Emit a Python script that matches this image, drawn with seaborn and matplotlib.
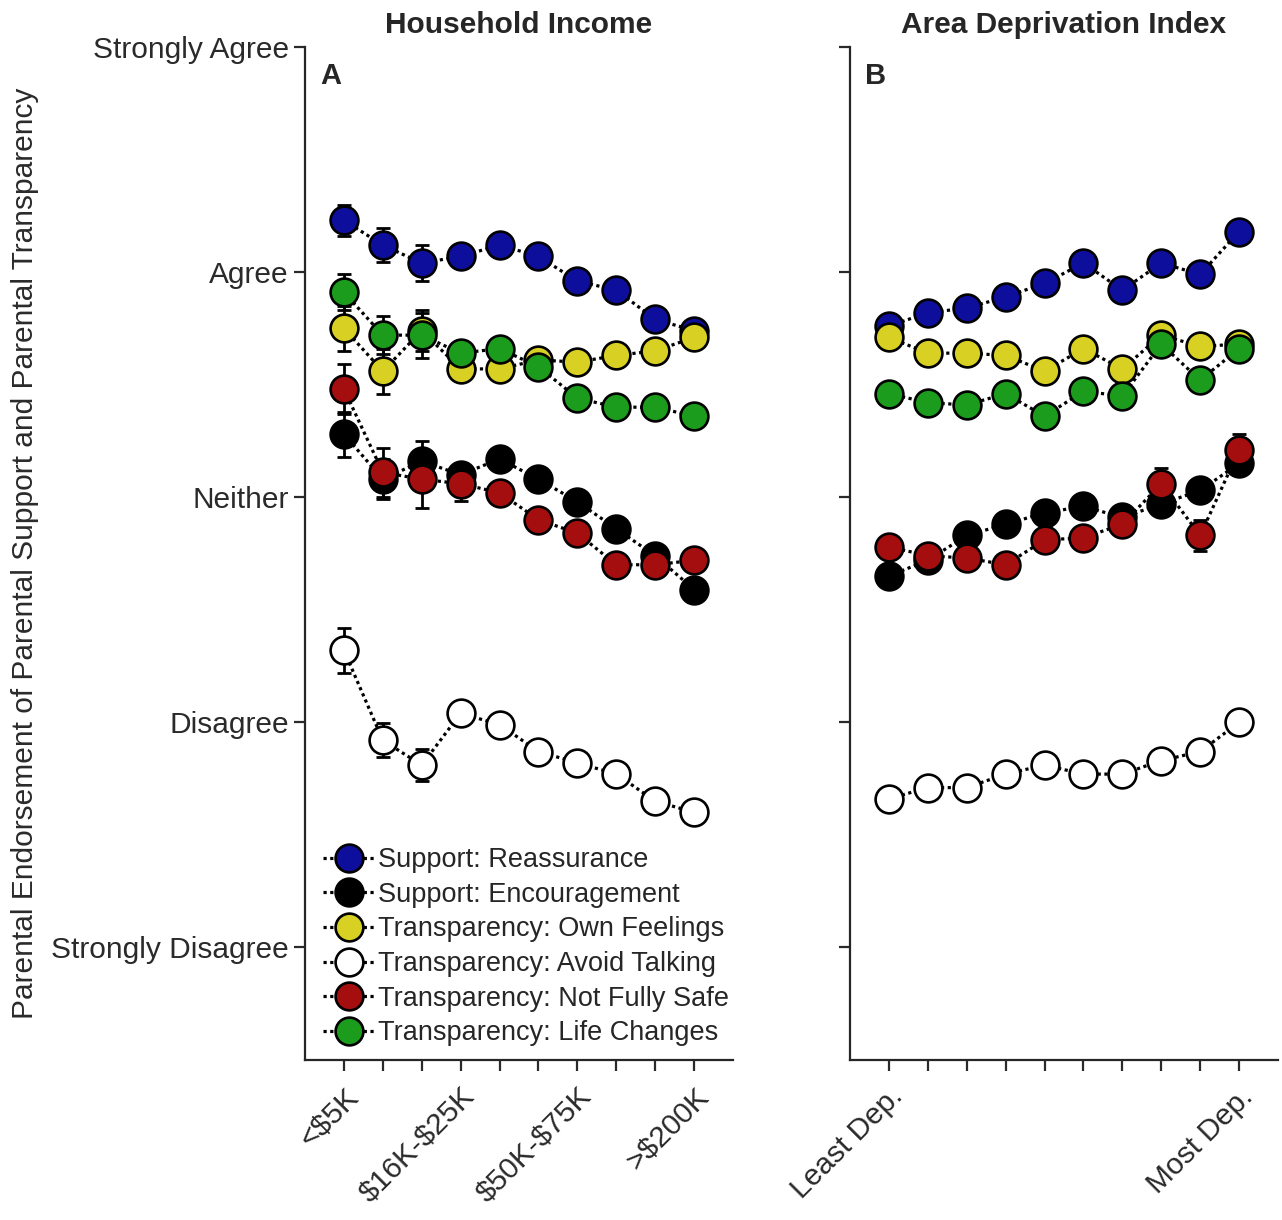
import numpy as np
import pandas as pd
import seaborn as sns
import matplotlib.pyplot as plt

# x positions (ordinal bins) and labels
bins = list(range(1, 11))
income_ticklabels = ["<\\$5K", "", "", "\\$16K-\\$25K", "", "", "\\$50K-\\$75K", "", "", ">\\$200K"]
adi_ticklabels = ["Least Dep.", "", "", "", "", "", "", "", "", "Most Dep."]

likert_ticks = [1, 2, 3, 4, 5]
likert_labels = ["Strongly Disagree", "Disagree", "Neither", "Agree", "Strongly Agree"]

series_names = ["Support: Reassurance", "Support: Encouragement",
                "Transparency: Own Feelings", "Transparency: Avoid Talking",
                "Transparency: Not Fully Safe", "Transparency: Life Changes"]
series_colors = ["#0e0e9c", "#000000", "#d8d022", "#ffffff", "#a50e0e", "#1c9c1c"]

# Panel A: household income
inc_reassurance = [4.23, 4.12, 4.04, 4.07, 4.12, 4.07, 3.96, 3.92, 3.79, 3.74]
inc_encouragement = [3.28, 3.08, 3.16, 3.10, 3.17, 3.08, 2.98, 2.86, 2.74, 2.59]
inc_ownfeelings = [3.75, 3.56, 3.74, 3.57, 3.57, 3.61, 3.60, 3.63, 3.65, 3.71]
inc_avoidtalking = [2.32, 1.92, 1.81, 2.04, 1.99, 1.87, 1.82, 1.77, 1.65, 1.60]
inc_notfullysafe = [3.48, 3.11, 3.08, 3.06, 3.02, 2.90, 2.84, 2.70, 2.70, 2.72]
inc_lifechanges = [3.91, 3.72, 3.72, 3.64, 3.66, 3.58, 3.44, 3.40, 3.40, 3.36]

inc_err_reassurance = [0.07, 0.075, 0.08, 0.04, 0.04, 0.04, 0.04, 0.04, 0.04, 0.04]
inc_err_encouragement = [0.10, 0.09, 0.09, 0.05, 0.04, 0.04, 0.04, 0.04, 0.04, 0.04]
inc_err_ownfeelings = [0.10, 0.10, 0.09, 0.05, 0.04, 0.04, 0.04, 0.04, 0.04, 0.04]
inc_err_avoidtalking = [0.10, 0.075, 0.07, 0.05, 0.04, 0.04, 0.04, 0.04, 0.04, 0.04]
inc_err_notfullysafe = [0.11, 0.11, 0.13, 0.075, 0.04, 0.04, 0.04, 0.04, 0.04, 0.04]
inc_err_lifechanges = [0.08, 0.085, 0.10, 0.05, 0.04, 0.04, 0.04, 0.04, 0.04, 0.04]

# Panel B: area deprivation index
adi_reassurance = [3.76, 3.82, 3.84, 3.89, 3.95, 4.04, 3.92, 4.04, 3.99, 4.18]
adi_encouragement = [2.65, 2.72, 2.83, 2.88, 2.93, 2.96, 2.91, 2.97, 3.03, 3.15]
adi_ownfeelings = [3.71, 3.64, 3.64, 3.63, 3.56, 3.66, 3.57, 3.72, 3.67, 3.68]
adi_avoidtalking = [1.66, 1.71, 1.71, 1.77, 1.81, 1.77, 1.77, 1.83, 1.87, 2.00]
adi_notfullysafe = [2.78, 2.74, 2.73, 2.70, 2.81, 2.82, 2.88, 3.06, 2.83, 3.21]
adi_lifechanges = [3.46, 3.42, 3.41, 3.46, 3.36, 3.47, 3.45, 3.68, 3.52, 3.66]

adi_err = [0.04] * 10
adi_err_notfullysafe = [0.04, 0.04, 0.04, 0.04, 0.04, 0.04, 0.04, 0.07, 0.07, 0.07]

inc_values = [inc_reassurance, inc_encouragement, inc_ownfeelings,
              inc_avoidtalking, inc_notfullysafe, inc_lifechanges]
inc_errors = [inc_err_reassurance, inc_err_encouragement, inc_err_ownfeelings,
              inc_err_avoidtalking, inc_err_notfullysafe, inc_err_lifechanges]
adi_values = [adi_reassurance, adi_encouragement, adi_ownfeelings,
              adi_avoidtalking, adi_notfullysafe, adi_lifechanges]
adi_errors = [adi_err, adi_err, adi_err, adi_err, adi_err_notfullysafe, adi_err]

sns.set_style("ticks")
plt.rcParams['font.family'] = ['Liberation Sans', 'DejaVu Sans']
plt.rcParams['axes.linewidth'] = 1.6

fig = plt.figure(figsize=(12.82, 12.2), dpi=100)
W, H = 1282, 1220
axA = fig.add_axes([305 / W, 1 - 1060 / H, 428 / W, 1013 / H])
axB = fig.add_axes([850 / W, 1 - 1060 / H, 428 / W, 1013 / H])


def draw_panel(ax, values, errors):
    for name, color, vals, errs in zip(series_names, series_colors, values, errors):
        df = pd.DataFrame({"bin": bins, "score": vals})
        ax.errorbar(bins, vals, yerr=errs, fmt="none", ecolor="black",
                    elinewidth=2, capsize=5, capthick=2, zorder=2)
        sns.lineplot(data=df, x="bin", y="score", ax=ax, errorbar=None,
                     color="black", linestyle=(0, (1, 1.1)), linewidth=2.3,
                     marker="o", markersize=20, markerfacecolor=color,
                     markeredgecolor="black", markeredgewidth=1.9,
                     label=name, legend=False, zorder=3)
    ax.set_xlim(0, 11)
    ax.set_ylim(0.5, 5)
    ax.set_xticks(bins)
    ax.set_yticks(likert_ticks)
    ax.set_xlabel("")
    ax.set_ylabel("")
    ax.tick_params(axis="both", direction="out", length=8, width=1.6,
                   labelsize=21.5, colors="#2a2a2a")
    ax.tick_params(axis="x", pad=8)
    sns.despine(ax=ax)


draw_panel(axA, inc_values, inc_errors)
draw_panel(axB, adi_values, adi_errors)

axA.set_xticklabels(income_ticklabels, rotation=45, ha="right",
                    rotation_mode="anchor", color="#2a2a2a")
axB.set_xticklabels(adi_ticklabels, rotation=45, ha="right",
                    rotation_mode="anchor", color="#2a2a2a")
axA.set_yticklabels(likert_labels, color="#2a2a2a")
axB.set_yticklabels([])

axA.set_title("Household Income", fontsize=21.5, fontweight="bold", pad=10)
axB.set_title("Area Deprivation Index", fontsize=21.5, fontweight="bold", pad=10)
axA.text(0.035, 0.985, "A", transform=axA.transAxes, fontsize=21,
         fontweight="bold", va="top", ha="left")
axB.text(0.035, 0.985, "B", transform=axB.transAxes, fontsize=21,
         fontweight="bold", va="top", ha="left")

fig.text(25 / W, 1 - 553 / H,
         "Parental Endorsement of Parental Support and Parental Transparency",
         rotation=90, va="center", ha="center", fontsize=21.5, color="#2a2a2a")

axA.legend(loc="lower left", bbox_to_anchor=(0.01, 0.0), frameon=False,
           fontsize=19.5, handlelength=1.9, handletextpad=0.15,
           labelspacing=0.32, borderaxespad=0.2, borderpad=0.3)

fig.savefig("out.png", dpi=100)
